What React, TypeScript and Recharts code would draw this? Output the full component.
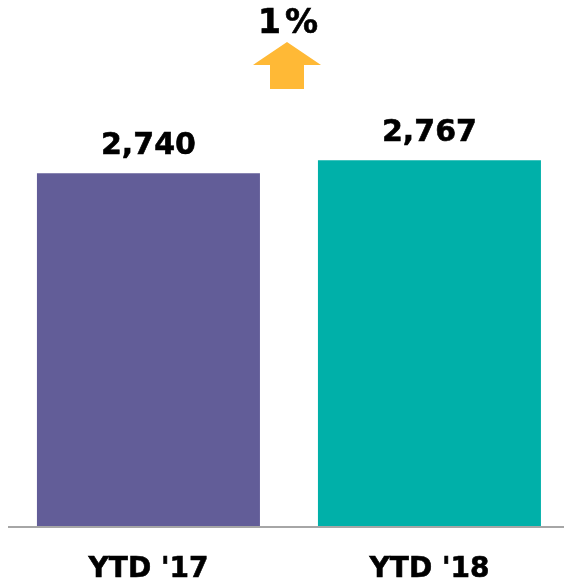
import React from "react";
import { BarChart, Bar, XAxis, YAxis, Cell, LabelList } from "recharts";

// values
const periods = ["YTD '17", "YTD '18"];
const totals = [2740, 2767];
const barColors = ["#625D98", "#00B0A9"];

const data = periods.map((p, i) => ({ period: p, total: totals[i] }));
const change = Math.round(((totals[1] - totals[0]) / totals[0]) * 100);

const FONT = "'DejaVu Sans', Verdana, sans-serif";

const ValueLabel = (props: any) => {
  const { x, y, width, value } = props;
  return (
    <text
      x={x + width / 2}
      y={y - 19}
      textAnchor="middle"
      fontFamily={FONT}
      fontWeight="bold"
      fontSize={30}
      fill="#000"
      stroke="#000"
      strokeWidth={0.6}
    >
      {Number(value).toLocaleString("en-US")}
    </text>
  );
};

const PeriodTick = (props: any) => {
  const { x, y, payload } = props;
  return (
    <text
      x={x}
      y={y + 50}
      textAnchor="middle"
      fontFamily={FONT}
      fontWeight="bold"
      fontSize={28}
      fill="#000"
      stroke="#000"
      strokeWidth={0.6}
    >
      {payload.value}
    </text>
  );
};

export default function App() {
  return (
    <div
      style={{
        position: "fixed",
        left: 0,
        top: 0,
        width: 564,
        height: 585,
        overflow: "hidden",
      }}
    >
      <BarChart
        width={570}
        height={585}
        data={data}
        margin={{ top: 49, right: 0, bottom: 0, left: 8 }}
        barCategoryGap="10.3%"
      >
        <XAxis
          dataKey="period"
          height={58}
          axisLine={{ stroke: "#A6A6A6", strokeWidth: 2 }}
          tickLine={false}
          tickSize={0}
          tickMargin={0}
          tick={<PeriodTick />}
          interval={0}
        />
        <YAxis hide domain={[2000, 3000]} />
        <Bar dataKey="total" isAnimationActive={false}>
          {data.map((d, i) => (
            <Cell key={d.period} fill={barColors[i]} />
          ))}
          <LabelList dataKey="total" content={<ValueLabel />} />
        </Bar>
        <text
          x={290}
          y={33}
          textAnchor="middle"
          fontFamily={FONT}
          fontWeight="bold"
          fontSize={33}
          letterSpacing={4}
          fill="#000"
          stroke="#000"
          strokeWidth={0.6}
        >
          {change}%
        </text>
        <polygon
          points="287,42 321,65 304,65 304,89 270,89 270,65 253,65"
          fill="#FFB936"
        />
      </BarChart>
    </div>
  );
}
